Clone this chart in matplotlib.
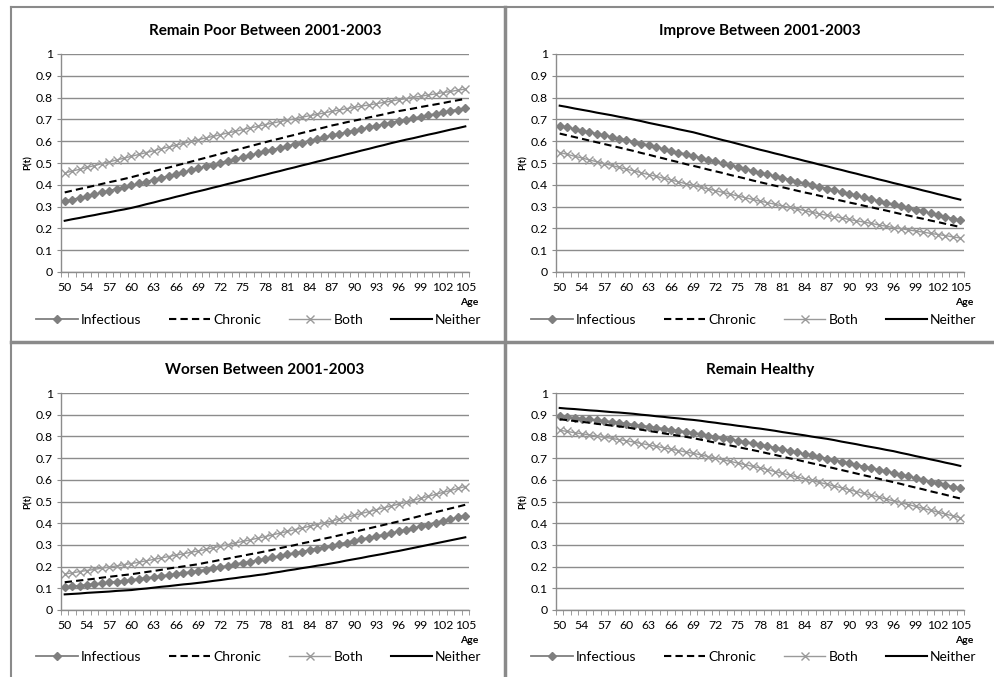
import numpy as np
import matplotlib
matplotlib.use('Agg')
import matplotlib.pyplot as plt
from matplotlib.lines import Line2D

plt.rcParams['font.family'] = ['Lato', 'DejaVu Sans']

# ── Categories (age axis) ──────────────────────────────────
AGES = [50] + list(range(52, 106))
SERIES = ['Infectious', 'Chronic', 'Both', 'Neither']

# ── Remain Poor Between 2001-2003 ──────────────────────────
poor_inf = [0.324, 0.332, 0.340, 0.348, 0.356, 0.365, 0.373, 0.381, 0.389,
            0.397, 0.406, 0.414, 0.423, 0.432, 0.440, 0.449, 0.458, 0.466,
            0.475, 0.484, 0.492, 0.501, 0.510, 0.518, 0.527, 0.536, 0.544,
            0.553, 0.561, 0.569, 0.578, 0.586, 0.594, 0.602, 0.611, 0.619,
            0.627, 0.634, 0.641, 0.649, 0.656, 0.663, 0.670, 0.678, 0.685,
            0.692, 0.699, 0.705, 0.712, 0.719, 0.725, 0.732, 0.739, 0.745, 0.752]
poor_chr = [0.365, 0.373, 0.381, 0.388, 0.396, 0.404, 0.412, 0.419, 0.427,
            0.435, 0.444, 0.453, 0.462, 0.471, 0.479, 0.488, 0.497, 0.506,
            0.515, 0.524, 0.533, 0.542, 0.551, 0.559, 0.568, 0.577, 0.586,
            0.595, 0.604, 0.612, 0.621, 0.629, 0.638, 0.646, 0.655, 0.663,
            0.672, 0.679, 0.687, 0.694, 0.701, 0.709, 0.716, 0.723, 0.731,
            0.738, 0.744, 0.750, 0.757, 0.763, 0.769, 0.775, 0.782, 0.788, 0.794]
poor_both = [0.454, 0.463, 0.471, 0.480, 0.488, 0.497, 0.505, 0.514, 0.522,
             0.531, 0.539, 0.548, 0.556, 0.565, 0.573, 0.582, 0.590, 0.599,
             0.607, 0.615, 0.622, 0.630, 0.638, 0.645, 0.653, 0.661, 0.668,
             0.676, 0.683, 0.690, 0.696, 0.703, 0.710, 0.717, 0.723, 0.730,
             0.737, 0.743, 0.749, 0.755, 0.761, 0.766, 0.772, 0.778, 0.784,
             0.790, 0.795, 0.801, 0.806, 0.812, 0.817, 0.823, 0.828, 0.834, 0.839]
poor_nei = [0.235, 0.242, 0.248, 0.255, 0.261, 0.268, 0.274, 0.281, 0.287,
            0.294, 0.302, 0.311, 0.319, 0.328, 0.336, 0.345, 0.353, 0.362,
            0.370, 0.378, 0.387, 0.395, 0.404, 0.412, 0.421, 0.429, 0.438,
            0.446, 0.455, 0.463, 0.472, 0.480, 0.489, 0.497, 0.506, 0.514,
            0.523, 0.531, 0.540, 0.548, 0.557, 0.565, 0.574, 0.582, 0.591,
            0.599, 0.607, 0.614, 0.622, 0.630, 0.637, 0.645, 0.653, 0.660, 0.668]

# ── Improve Between 2001-2003 ──────────────────────────────
impr_inf = [0.671, 0.664, 0.656, 0.649, 0.642, 0.634, 0.627, 0.620, 0.612,
            0.605, 0.597, 0.589, 0.581, 0.573, 0.564, 0.556, 0.548, 0.540,
            0.532, 0.524, 0.515, 0.507, 0.498, 0.490, 0.481, 0.473, 0.464,
            0.456, 0.448, 0.440, 0.432, 0.424, 0.415, 0.407, 0.399, 0.391,
            0.383, 0.375, 0.367, 0.359, 0.351, 0.342, 0.334, 0.326, 0.318,
            0.310, 0.302, 0.294, 0.286, 0.278, 0.269, 0.261, 0.253, 0.245, 0.237]
impr_chr = [0.635, 0.627, 0.619, 0.611, 0.603, 0.595, 0.587, 0.579, 0.571,
            0.563, 0.555, 0.546, 0.538, 0.529, 0.521, 0.512, 0.504, 0.495,
            0.487, 0.479, 0.470, 0.462, 0.454, 0.445, 0.437, 0.429, 0.420,
            0.412, 0.404, 0.396, 0.389, 0.381, 0.373, 0.365, 0.358, 0.350,
            0.342, 0.334, 0.327, 0.319, 0.312, 0.304, 0.297, 0.289, 0.282,
            0.274, 0.266, 0.259, 0.251, 0.244, 0.236, 0.229, 0.221, 0.214, 0.206]
impr_both = [0.548, 0.540, 0.531, 0.523, 0.514, 0.506, 0.497, 0.489, 0.480,
             0.472, 0.464, 0.455, 0.447, 0.439, 0.430, 0.422, 0.414, 0.405,
             0.397, 0.389, 0.381, 0.373, 0.365, 0.357, 0.349, 0.341, 0.333,
             0.325, 0.318, 0.311, 0.303, 0.296, 0.289, 0.282, 0.274, 0.267,
             0.260, 0.254, 0.248, 0.241, 0.235, 0.229, 0.223, 0.216, 0.210,
             0.204, 0.199, 0.193, 0.188, 0.183, 0.177, 0.172, 0.167, 0.161, 0.156]
impr_nei = [0.763, 0.757, 0.750, 0.744, 0.738, 0.731, 0.725, 0.719, 0.712,
            0.706, 0.699, 0.692, 0.684, 0.677, 0.670, 0.663, 0.655, 0.648,
            0.641, 0.632, 0.623, 0.614, 0.605, 0.597, 0.588, 0.579, 0.570,
            0.561, 0.553, 0.544, 0.536, 0.527, 0.519, 0.510, 0.502, 0.493,
            0.485, 0.476, 0.468, 0.459, 0.451, 0.442, 0.434, 0.425, 0.417,
            0.408, 0.400, 0.391, 0.383, 0.374, 0.366, 0.357, 0.349, 0.340, 0.332]

# ── Worsen Between 2001-2003 ───────────────────────────────
wors_inf = [0.105, 0.109, 0.112, 0.116, 0.120, 0.123, 0.127, 0.131, 0.134,
            0.138, 0.143, 0.147, 0.152, 0.157, 0.161, 0.166, 0.171, 0.175,
            0.180, 0.186, 0.192, 0.198, 0.204, 0.211, 0.217, 0.223, 0.229,
            0.235, 0.242, 0.249, 0.256, 0.263, 0.269, 0.276, 0.283, 0.290,
            0.297, 0.304, 0.311, 0.319, 0.326, 0.333, 0.340, 0.347, 0.355,
            0.362, 0.370, 0.378, 0.386, 0.394, 0.403, 0.411, 0.419, 0.427, 0.435]
wors_chr = [0.128, 0.132, 0.136, 0.140, 0.144, 0.149, 0.153, 0.157, 0.161,
            0.165, 0.170, 0.175, 0.180, 0.185, 0.191, 0.196, 0.201, 0.206,
            0.211, 0.218, 0.224, 0.231, 0.237, 0.244, 0.250, 0.257, 0.263,
            0.270, 0.277, 0.285, 0.292, 0.299, 0.307, 0.314, 0.321, 0.329,
            0.336, 0.344, 0.352, 0.360, 0.368, 0.376, 0.384, 0.392, 0.400,
            0.408, 0.417, 0.425, 0.434, 0.442, 0.451, 0.459, 0.468, 0.476, 0.485]
wors_both = [0.166, 0.171, 0.177, 0.182, 0.187, 0.193, 0.198, 0.203, 0.209,
             0.214, 0.220, 0.227, 0.233, 0.240, 0.246, 0.253, 0.259, 0.266,
             0.272, 0.279, 0.287, 0.294, 0.301, 0.309, 0.316, 0.323, 0.331,
             0.338, 0.346, 0.354, 0.362, 0.370, 0.378, 0.386, 0.394, 0.402,
             0.410, 0.419, 0.427, 0.436, 0.445, 0.453, 0.462, 0.471, 0.479,
             0.488, 0.497, 0.506, 0.515, 0.524, 0.533, 0.542, 0.551, 0.560, 0.569]
wors_nei = [0.072, 0.074, 0.076, 0.079, 0.081, 0.083, 0.085, 0.088, 0.090,
            0.092, 0.096, 0.099, 0.103, 0.107, 0.110, 0.114, 0.118, 0.121,
            0.125, 0.129, 0.134, 0.138, 0.143, 0.147, 0.152, 0.156, 0.161,
            0.165, 0.171, 0.176, 0.182, 0.187, 0.193, 0.198, 0.204, 0.209,
            0.215, 0.221, 0.228, 0.234, 0.240, 0.247, 0.253, 0.259, 0.266,
            0.272, 0.279, 0.286, 0.293, 0.300, 0.307, 0.314, 0.321, 0.328, 0.335]

# ── Remain Healthy ─────────────────────────────────────────
heal_inf = [0.894, 0.890, 0.886, 0.882, 0.878, 0.875, 0.871, 0.867, 0.863,
            0.859, 0.854, 0.849, 0.845, 0.840, 0.835, 0.830, 0.826, 0.821,
            0.816, 0.810, 0.804, 0.798, 0.792, 0.786, 0.780, 0.774, 0.768,
            0.762, 0.755, 0.748, 0.741, 0.734, 0.726, 0.719, 0.712, 0.705,
            0.698, 0.691, 0.683, 0.676, 0.669, 0.661, 0.654, 0.647, 0.639,
            0.632, 0.624, 0.616, 0.608, 0.600, 0.592, 0.584, 0.576, 0.568, 0.560]
heal_chr = [0.879, 0.875, 0.871, 0.867, 0.863, 0.858, 0.854, 0.850, 0.846,
            0.842, 0.836, 0.831, 0.825, 0.820, 0.814, 0.809, 0.803, 0.798,
            0.792, 0.785, 0.778, 0.771, 0.764, 0.758, 0.751, 0.744, 0.737,
            0.730, 0.722, 0.715, 0.707, 0.699, 0.692, 0.684, 0.676, 0.669,
            0.661, 0.653, 0.645, 0.637, 0.629, 0.621, 0.613, 0.605, 0.597,
            0.589, 0.581, 0.572, 0.564, 0.556, 0.547, 0.539, 0.531, 0.522, 0.514]
heal_both = [0.828, 0.823, 0.817, 0.812, 0.807, 0.801, 0.796, 0.791, 0.785,
             0.780, 0.774, 0.767, 0.761, 0.754, 0.748, 0.741, 0.735, 0.728,
             0.722, 0.715, 0.707, 0.700, 0.692, 0.685, 0.677, 0.670, 0.662,
             0.655, 0.647, 0.638, 0.630, 0.622, 0.613, 0.605, 0.597, 0.588,
             0.580, 0.571, 0.563, 0.554, 0.546, 0.537, 0.529, 0.520, 0.512,
             0.503, 0.494, 0.486, 0.477, 0.468, 0.460, 0.451, 0.442, 0.434, 0.425]
heal_nei = [0.931, 0.928, 0.926, 0.923, 0.920, 0.918, 0.915, 0.912, 0.910,
            0.907, 0.904, 0.900, 0.897, 0.893, 0.890, 0.886, 0.883, 0.879,
            0.876, 0.872, 0.867, 0.863, 0.858, 0.854, 0.849, 0.845, 0.840,
            0.836, 0.831, 0.826, 0.820, 0.815, 0.810, 0.805, 0.799, 0.794,
            0.789, 0.783, 0.776, 0.770, 0.764, 0.757, 0.751, 0.745, 0.738,
            0.732, 0.724, 0.717, 0.709, 0.702, 0.694, 0.687, 0.679, 0.672, 0.664]

PANELS = [
    ('Remain Poor Between 2001-2003', [poor_inf, poor_chr, poor_both, poor_nei]),
    ('Improve Between 2001-2003',     [impr_inf, impr_chr, impr_both, impr_nei]),
    ('Worsen Between 2001-2003',      [wors_inf, wors_chr, wors_both, wors_nei]),
    ('Remain Healthy',                [heal_inf, heal_chr, heal_both, heal_nei]),
]

# ── Styles per series ──────────────────────────────────────
STYLES = [
    dict(color='#7f7f7f', lw=1.3, marker='D', ms=4.5, mfc='#7f7f7f', mec='#7f7f7f'),
    dict(color='black', lw=1.5, ls=(0, (3.5, 2))),
    dict(color='#9a9a9a', lw=1.0, marker='x', ms=6, mew=1.0),
    dict(color='black', lw=1.5),
]
GRID = '#8c8c8c'
BORDER = '#8a8a8a'

# axes rectangles in pixels: left, right, top, bottom
W, H = 995, 677
BOXES = [(61, 469, 54, 272), (556, 964, 54, 272),
         (61, 469, 393, 610), (556, 964, 393, 610)]

fig = plt.figure(figsize=(W / 100, H / 100), dpi=100, facecolor='white')

x = np.arange(len(AGES))
for (title, series), (l, r, t, b) in zip(PANELS, BOXES):
    ax = fig.add_axes([l / W, 1 - b / H, (r - l) / W, (b - t) / H])
    for name, y, st in zip(SERIES, series, STYLES):
        ax.plot(x, y, label=name, **st)

    ax.set_xlim(-0.5, len(AGES) - 0.5)
    ax.set_ylim(0, 1)
    ax.set_yticks(np.arange(0, 1.01, 0.1))
    ax.set_yticklabels(['0', '0.1', '0.2', '0.3', '0.4', '0.5', '0.6',
                        '0.7', '0.8', '0.9', '1'])
    ax.set_xticks(x[::3])
    ax.set_xticklabels([str(a) for a in AGES[::3]])
    ax.set_xticks(np.arange(-0.5, len(AGES), 1.0), minor=True)
    ax.tick_params(axis='x', which='major', length=0, labelsize=8.8, pad=7)
    ax.tick_params(axis='x', which='minor', length=3.5, color=GRID, direction='out')
    ax.tick_params(axis='y', length=3, color=GRID, labelsize=8.8, pad=3)
    ax.grid(True, axis='y', color=GRID, lw=1.0)
    ax.set_axisbelow(True)
    for s in ('top', 'right'):
        ax.spines[s].set_visible(False)
    for s in ('left', 'bottom'):
        ax.spines[s].set_color(GRID)
        ax.spines[s].set_linewidth(1.0)

    ax.set_title(title, fontsize=11, fontweight='bold', pad=14)
    ax.set_ylabel('P(t)', fontsize=7, fontweight='bold', labelpad=2)
    ax.text(1.0, -0.14, 'Age', transform=ax.transAxes, ha='center', va='center',
            fontsize=7.5, fontweight='bold')
    ax.legend(loc='center', bbox_to_anchor=(0.485, -0.218), ncol=4, frameon=False,
              fontsize=10, handlelength=3.0, handletextpad=0.2, columnspacing=2.0)

# ── Panel borders ──────────────────────────────────────────
def fig_line(x0, y0, x1, y1, lw):
    fig.add_artist(Line2D([x0 / W, x1 / W], [1 - y0 / H, 1 - y1 / H],
                          color=BORDER, lw=lw, transform=fig.transFigure))

fig_line(11, 7, W, 7, 1.5)
fig_line(11, 7, 11, H, 1.5)
fig_line(505, 7, 505, H, 2.5)
fig_line(11, 342, W, 342, 2.5)

fig.savefig('out.png', dpi=100, facecolor='white')
